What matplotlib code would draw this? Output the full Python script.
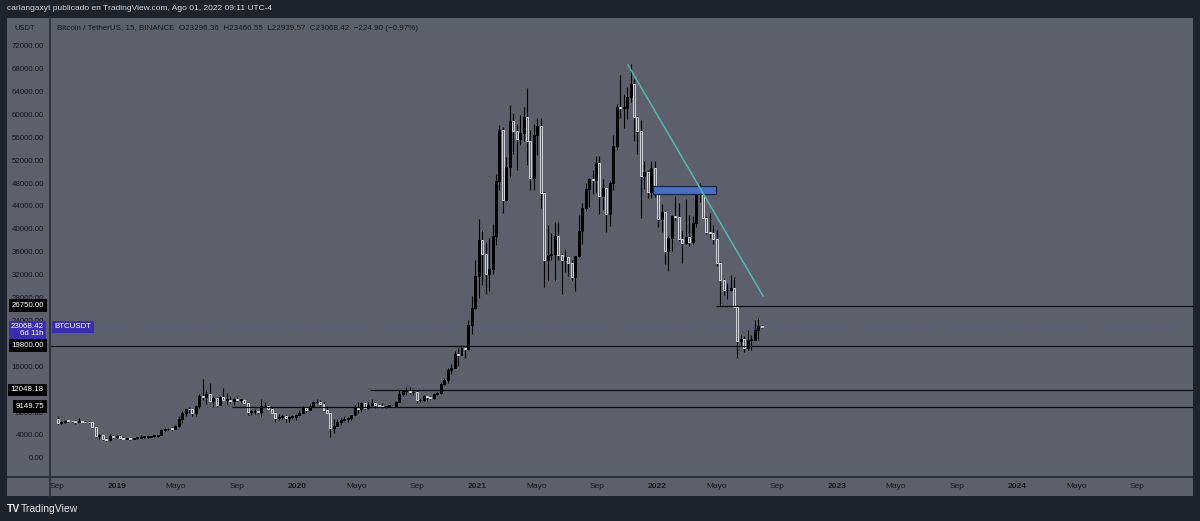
import matplotlib
matplotlib.use("Agg")
import matplotlib.pyplot as plt
import matplotlib.dates as mdates
import pandas as pd
from matplotlib.patches import Rectangle
from matplotlib.lines import Line2D

plt.rcParams['font.family'] = ['Liberation Sans', 'DejaVu Sans']

# weekly BTCUSDT candles, starting Monday 2018-09-03
open_ = [7015, 6250, 6500, 6700, 6600, 6570, 6450, 6500, 6450, 6400, 6380, 5600, 4000, 4150, 3500, 3250, 4000, 3900,
         4000, 3650, 3550, 3550, 3450, 3650, 3650, 3800, 3850, 3900, 4000, 4000, 4100, 5000, 5150, 5300, 5200, 5750,
         7000, 8000, 8700, 8650, 7950, 9300, 10900, 10800, 11250, 10200, 10700, 9500, 10800, 10300, 10300, 10100,
         10400, 10300, 10300, 9700, 8200, 8200, 8300, 8200, 9200, 9200, 8800, 8100, 7200, 7400, 7500, 7100, 7300, 7350,
         7750, 8100, 8900, 8600, 9300, 9900, 9900, 9650, 8550, 8000, 5350, 5800, 6400, 6850, 6900, 7100, 7700, 8900,
         8700, 9700, 8900, 9450, 9700, 9350, 9300, 9000, 9250, 9300, 9200, 9950, 11300, 11850, 11900, 11650, 11650,
         10250, 10300, 10900, 10750, 10650, 11400, 11500, 13050, 13750, 15450, 15950, 18400, 18150, 19350, 19150,
         23450, 26300,
         32000, 38200, 35800, 32250, 33100, 38900, 48600, 57500, 45250, 50950, 59000, 57350, 55800, 57000, 59800,
         55600, 49000, 56600, 58200, 46450, 34700, 35650, 35800, 39000, 35600, 34700, 35300, 34250, 31800, 35400,
         39850, 43800, 47100, 48900, 48800, 51750, 46000, 47250, 42700, 48200, 54650, 61550, 61300, 61300, 63300,
         65500, 59700, 57300, 49400, 50100, 46700, 50800,
         47300, 41850, 43100, 36300, 38500, 42400, 42200, 38350, 37700, 38800, 37800, 41250, 46800, 46400, 42150,
         39700, 39450, 38450, 34300, 31300, 29450, 29450, 29900, 26550, 20550, 21000, 19300, 20800, 20800, 22600, 23300]
high = [7410, 6580, 6820, 6850, 6700, 6800, 7200, 6600, 6600, 6600, 6480, 5650, 4400, 4200, 3650, 4300, 4250, 4100,
        4100, 3800, 3650, 3600, 3700, 3700, 4200, 3900, 3950, 4000, 4100, 4150, 5300, 5450, 5400, 5650, 5850, 7450,
        8350, 8800, 9100, 8800, 9400, 11300, 13970, 12000, 13200, 11000, 10800, 11000, 12300, 11500, 10950, 10600,
        10900, 10450, 10350, 9800, 8550, 8800, 8400, 10500, 9950, 9500, 9100, 8200, 7850, 7750, 7650, 7550, 7700, 7800,
        8500, 9200, 8950, 9600, 10150, 10500, 10250, 9950, 9200, 8200, 6900, 6950, 7200, 7450, 7300, 7750, 9450, 10000,
        9900, 9950, 10000, 10400, 9950, 9600, 9800, 9300, 9450, 9350, 10150, 12100, 11900, 12500, 12500, 11800, 12100,
        10600, 11200, 10950, 10950, 11500, 11700, 13350, 14100, 15950, 16500, 18800, 19450, 19900, 19450, 24300,
        28400, 34800,
        41950, 40000, 37850, 38600, 40950, 49700, 58350, 58000, 52650, 61850, 60500, 58450, 60000, 61500, 64850,
        57500, 58450, 59600, 59600, 46650, 40900, 39500, 41300, 41300, 36000, 36600, 35300, 34700, 35400, 42600,
        44700, 48150, 49150, 50500, 52900, 52950, 48850, 47300, 48500, 56550, 62000, 67000, 63700, 65000, 69000,
        66400, 59900, 59200, 51950, 50500, 52100, 52050,
        47550, 44450, 43500, 38900, 42650, 45850, 44750, 39800, 45400, 42600, 42350, 47000, 48200, 47200, 42400,
        42950, 40800, 40000, 34400, 31650, 30650, 32200, 31750, 26900, 21900, 21550, 22550, 21650, 24250, 24650, 23470]
low = [6115, 6180, 6200, 6400, 6500, 6100, 6400, 6400, 6250, 6350, 5350, 3900, 3500, 3300, 3200, 3200, 3600, 3650,
       3550, 3550, 3450, 3350, 3400, 3550, 3600, 3700, 3700, 3800, 3900, 3900, 4100, 4950, 5000, 5100, 5150, 5650,
       6200, 7500, 8000, 7450, 7500, 8950, 10300, 9600, 10400, 9100, 9100, 9400, 10700, 9400, 9800, 9350,
       10200, 9950, 9600, 7700, 7750, 7850, 7900, 7300, 9000, 8700, 8000, 6500, 6850, 7050, 6450, 6450, 7050, 6850,
       7650, 8000, 8250, 8500, 9100, 9700, 9300, 8400, 8000, 3800, 4450, 5700, 5850, 6700, 6500, 6800, 7600, 8100,
       8200, 8650, 8650, 9250, 8900, 9200, 8850, 8950, 9100, 9050, 9100, 9900, 10950, 11100, 11300, 11100, 9800,
       9900, 10200, 10150, 10400, 10500, 11200, 11400, 12900, 13300, 14850, 15800, 16200, 18100, 17600, 19000,
       21800, 26100,
       28100, 30400, 28850, 29250, 32300, 37400, 47000, 43000, 45000, 49300, 53250, 50400, 54900, 55500, 51300,
       47050, 47050, 53050, 43800, 30000, 31000, 34800, 31000, 34800, 28800, 32700, 32000, 31000, 29300, 35200,
       37500, 43300, 43950, 46350, 46500, 42850, 43400, 39600, 40750, 46900, 53900, 59500, 57800, 59400, 62300,
       55600, 53250, 42000, 47100, 45500, 45600, 45700,
       40500, 39650, 34000, 32900, 36250, 41700, 38000, 34300, 37450, 37150, 37600, 40500, 44900, 42100, 39200,
       38550, 37600, 33700, 26700, 28650, 28000, 29250, 26550, 17600, 19750, 18600, 19050, 18950, 20750, 20700, 22850]
close = [6250, 6500, 6700, 6600, 6570, 6450, 6500, 6450, 6400, 6380, 5600, 4000, 4150, 3500, 3250, 4000, 3900, 4000,
         3650, 3550, 3550, 3450, 3650, 3650, 3800, 3850, 3900, 4000, 4000, 4100, 5000, 5150, 5300, 5200, 5750, 7000,
         8000, 8700, 8650, 7950, 9300, 10900, 10800, 11250, 10200, 10700, 9500, 10800, 10300, 10300, 10100, 10400,
         10300, 10300, 9700, 8200, 8200, 8300, 8200, 9200, 9200, 8800, 8100, 7200, 7400, 7500, 7100, 7300, 7350, 7750,
         8100, 8900, 8600, 9300, 9900, 9900, 9650, 8550, 8000, 5350, 5800, 6400, 6850, 6900, 7100, 7700, 8900, 8700,
         9700, 8900, 9450, 9700, 9350, 9300, 9000, 9250, 9300, 9200, 9950, 11300, 11850, 11900, 11650, 11650, 10250,
         10300, 10900, 10750, 10650, 11400, 11500, 13050, 13750, 15450, 15950, 18400, 18150, 19350, 19150, 23450,
         26300, 32000,
         38200, 35800, 32250, 33100, 38900, 48600, 57500, 45250, 50950, 59000, 57350, 55800, 57000, 59800, 55600,
         49000, 56600, 58200, 46450, 34700, 35650, 35800, 39000, 35600, 34700, 35300, 34250, 31800, 35400, 39850,
         43800, 47100, 48900, 48800, 51750, 46000, 47250, 42700, 48200, 54650, 61550, 61300, 61300, 63300, 65500,
         59700, 57300, 49400, 50100, 46700, 50800, 47300,
         41850, 43100, 36300, 38500, 42400, 42200, 38350, 37700, 38800, 37800, 41250, 46800, 46400, 42150, 39700,
         39450, 38450, 34300, 31300, 29450, 29450, 29900, 26550, 20550, 21000, 19300, 20800, 20800, 22600, 23300, 23068]

last_price = 23068.42
levels = [26750.00, 19800.00, 12048.18, 9149.75]
level_start = ['2022-05-01', None, '2020-05-28', '2019-08-22']
zone = ('2021-12-24', '2022-04-30', 46220, 47720)
trend = (('2021-11-03', 68800), ('2022-08-04', 28450))
month_ticks = ['2018-09-01', '2019-01-01', '2019-05-01', '2019-09-01', '2020-01-01', '2020-05-01', '2020-09-01',
               '2021-01-01', '2021-05-01', '2021-09-01', '2022-01-01', '2022-05-01', '2022-09-01',
               '2023-01-01', '2023-05-01', '2023-09-01', '2024-01-01', '2024-05-01', '2024-09-01']
month_labels = ['Sep', '2019', 'Mayo', 'Sep', '2020', 'Mayo', 'Sep', '2021', 'Mayo', 'Sep', '2022', 'Mayo', 'Sep',
                '2023', 'Mayo', 'Sep', '2024', 'Mayo', 'Sep']

BG = '#1e222d'
PANEL = '#5d606b'
SEP = '#2a2e39'
TXT = '#16181f'
PURPLE = '#3b2eb0'
FS = 5.7

dates = pd.date_range('2018-09-03', periods=len(close), freq='W-MON')
dn = mdates.date2num(dates.to_pydatetime())
d19 = mdates.date2num(pd.Timestamp('2019-01-01').to_pydatetime())


def fx(px):
    return px / 1200


def fy(py):
    return 1 - py / 521


fig = plt.figure(figsize=(12, 5.21), dpi=100)
fig.patch.set_facecolor(BG)
fig.patches.append(Rectangle((fx(7), fy(496)), fx(1193 - 7), (496 - 18) / 521, transform=fig.transFigure,
                             fc=PANEL, ec='none', zorder=-10))

ax = fig.add_axes([fx(50), fy(477), fx(1143), (477 - 18) / 521])
ax.set_facecolor('none')
ax.set_ylim(-3162, 77013)
ax.set_xlim(d19 - 136.0, d19 + 2183.4)
ax.axis('off')

# candles
for x, o, h, l, c in zip(dn, open_, high, low, close):
    up = c >= o
    ax.vlines(x, l, h, color='#000000', lw=0.8, zorder=2)
    body = max(abs(c - o), 120)
    ax.bar(x, body, bottom=min(o, c), width=4.0,
           color='#000000' if up else PANEL, edgecolor='#000000' if up else '#d2d4da',
           linewidth=0.7, zorder=3)

# horizontal levels
for v, s in zip(levels, level_start):
    x0 = mdates.date2num(pd.Timestamp(s).to_pydatetime()) if s else ax.get_xlim()[0]
    ax.hlines(v, x0, ax.get_xlim()[1], color='#0b0c10', lw=0.9, zorder=4)

ax.axhline(last_price, color='#5a4fd6', lw=0.9, ls=(0, (1, 2)), zorder=1)

z0 = mdates.date2num(pd.Timestamp(zone[0]).to_pydatetime())
z1 = mdates.date2num(pd.Timestamp(zone[1]).to_pydatetime())
ax.add_patch(Rectangle((z0, zone[2]), z1 - z0, zone[3] - zone[2], fc='#4a6fbf', ec='#1b2549', lw=0.9, zorder=5))

tx = [mdates.date2num(pd.Timestamp(p[0]).to_pydatetime()) for p in trend]
ax.plot(tx, [p[1] for p in trend], color='#4fb8ac', lw=1.1, zorder=6)

ax.text(0.004, last_price, 'BTCUSDT', transform=ax.get_yaxis_transform(), ha='left', va='center',
        color='white', fontsize=FS, zorder=8,
        bbox=dict(boxstyle='square,pad=0.35', fc=PURPLE, ec='none'))

# price scale
pax = fig.add_axes([fx(7), fy(477), fx(43), (477 - 18) / 521], sharey=ax)
pax.set_facecolor('none')
pax.set_xlim(0, 1)
pax.axis('off')
for v in range(0, 76000, 4000):
    pax.text(0.86, v, f'{v:.2f}', ha='right', va='center', color=TXT, fontsize=FS, zorder=1)
for v in levels:
    pax.text(0.86, v, f'{v:.2f}', ha='right', va='center', color='white', fontsize=FS, zorder=5,
             bbox=dict(boxstyle='square,pad=0.35', fc='#000000', ec='none'))
pax.text(0.86, last_price - 620, f'{last_price:.2f}\n6d 11h', ha='right', va='center', color='white',
         fontsize=FS, linespacing=1.0, multialignment='right', zorder=6,
         bbox=dict(boxstyle='square,pad=0.25', fc=PURPLE, ec='none'))

# time scale
tax = fig.add_axes([fx(50), fy(496), fx(1143), 19 / 521], sharex=ax)
tax.set_facecolor('none')
tax.set_ylim(0, 1)
tax.axis('off')
for t, lab in zip(month_ticks, month_labels):
    xt = mdates.date2num(pd.Timestamp(t).to_pydatetime())
    tax.text(xt, 0.5, lab, ha='center', va='center', color=TXT, fontsize=6.0,
             fontweight='bold' if lab.isdigit() else 'normal', clip_on=True)

# separators
fig.lines.append(Line2D([fx(50), fx(50)], [fy(18), fy(496)], transform=fig.transFigure, color=SEP, lw=1.3))
fig.lines.append(Line2D([fx(7), fx(1193)], [fy(477), fy(477)], transform=fig.transFigure, color=SEP, lw=1.3))

# header, legend, footer
fig.text(fx(7), fy(9), 'carlangaxyt publicado en TradingView.com, Ago 01, 2022 09:11 UTC-4',
         color='#d1d4dc', fontsize=6.0, va='center', ha='left')
fig.text(fx(14), fy(28), 'USDT', color=TXT, fontsize=5.4, va='center', ha='left')
fig.text(fx(57), fy(29), 'Bitcoin / TetherUS, 15, BINANCE  O23296.36  H23466.55  L22939.57  C23068.42  '
         '\u2212224.90 (\u22120.97%)', color=TXT, fontsize=5.8, va='center', ha='left')
fig.text(fx(7), fy(509), 'TV', color='#e6e7ea', fontsize=7.5, fontweight='bold', va='center', ha='left')
fig.text(fx(21), fy(509), 'TradingView', color='#e6e7ea', fontsize=7.5, va='center', ha='left')

fig.savefig('out.png', dpi=100, facecolor=BG)
